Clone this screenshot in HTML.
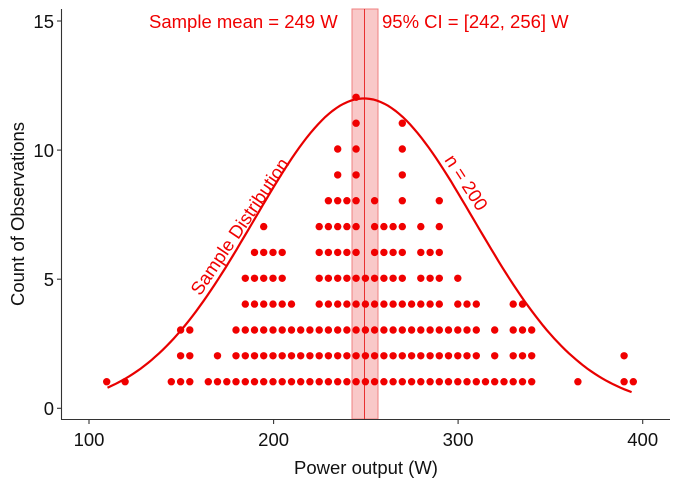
<!DOCTYPE html>
<html><head><meta charset="utf-8"><style>
html,body{margin:0;padding:0;background:#fff;}
svg{display:block;font-family:"Liberation Sans",Arial,sans-serif;}
</style></head><body>
<svg id="s" width="680" height="486" viewBox="0 0 680 486" xmlns="http://www.w3.org/2000/svg">
<rect x="352" y="9" width="26" height="410" fill="#f9c8c8" stroke="#f08080" stroke-width="1"/>
<line x1="364.5" y1="9" x2="364.5" y2="419" stroke="#e83030" stroke-width="1"/>
<g id="dots" fill="#f00000"></g>
<path id="curve" fill="none" stroke="#e80000" stroke-width="2.2"/>
<line x1="61.5" y1="9" x2="61.5" y2="419.5" stroke="#333" stroke-width="1.1"/>
<line x1="61" y1="419.5" x2="670" y2="419.5" stroke="#333" stroke-width="1.1"/>
<g stroke="#333" stroke-width="1.1">
<line x1="57" y1="408.3" x2="61" y2="408.3"/><line x1="57" y1="279.2" x2="61" y2="279.2"/>
<line x1="57" y1="150.1" x2="61" y2="150.1"/><line x1="57" y1="21" x2="61" y2="21"/>
<line x1="89" y1="419" x2="89" y2="424"/><line x1="273.6" y1="419" x2="273.6" y2="424"/>
<line x1="458.1" y1="419" x2="458.1" y2="424"/><line x1="642.7" y1="419" x2="642.7" y2="424"/>
</g>
<g font-size="18.5" fill="#111" text-anchor="end">
<text x="54" y="415">0</text><text x="54" y="286">5</text><text x="54" y="157">10</text><text x="54" y="28">15</text>
</g>
<g font-size="18.5" fill="#111" text-anchor="middle">
<text x="89" y="446">100</text><text x="273.6" y="446">200</text><text x="458.1" y="446">300</text><text x="642.7" y="446">400</text>
<text x="366" y="474">Power output (W)</text>
<text transform="translate(24,214) rotate(-90)">Count of Observations</text>
</g>
<g font-size="18.5" fill="#f00000">
<text x="149" y="28">Sample mean = 249 W</text>
<text x="382" y="28">95% CI = [242, 256] W</text>
<text text-anchor="middle" transform="translate(245,230) rotate(-56)">Sample Distribution</text>
<text text-anchor="middle" transform="translate(461,186) rotate(57)">n = 200</text>
</g>
</svg>
<script>
var rows=[
[-11,-9,-4,-3,-2,[0,35],40,45,46],
[-3,-2,1,[3,29],31,33,34,35,45],
[-3,-2,[3,29],31,33,34,35],
[[4,9],[12,25],27,28,29,33,34],
[[4,8],[12,21],23,24,25,27],
[[5,8],[12,16],[18,21],[23,25]],
[6,[12,16],[18,21],23,25],
[[13,16],18,21,25],
[14,16,21],[14,16,21],[16,21],[16]];
var g=document.getElementById('dots'),h='';
rows.forEach(function(r,k){var y=381.7-25.85*k;r.forEach(function(e){var a=e,b=e;if(Array.isArray(e)){a=e[0];b=e[e.length-1];}
for(var i=a;i<=b;i++){h+='<circle cx="'+(208.3+9.24*i).toFixed(1)+'" cy="'+y.toFixed(1)+'" r="3.7"/>';}});});
g.innerHTML=h;
var d='';for(var v=110;v<=395;v+=2){var x=89+(v-100)*1.8457;var c=12*Math.exp(-Math.pow((v-249)/59.7,2)/2);var y=408.3-c*25.82;d+=(v==110?'M':'L')+x.toFixed(1)+','+y.toFixed(1);}
document.getElementById('curve').setAttribute('d',d);
</script>
</body></html>
